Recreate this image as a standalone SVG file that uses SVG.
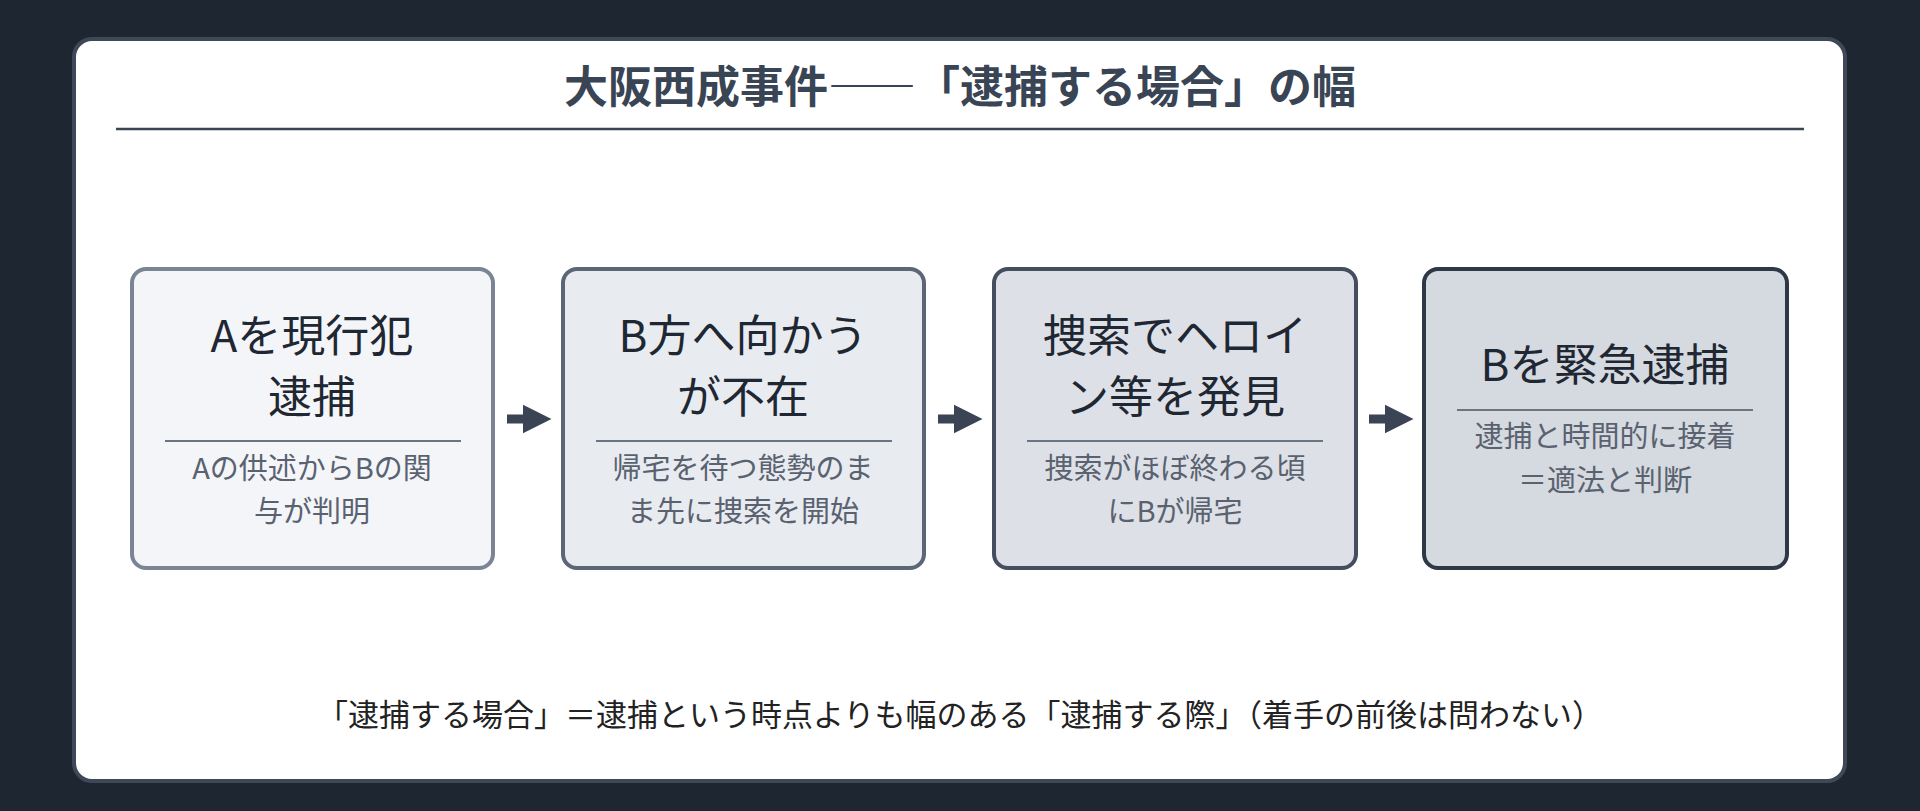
<svg xmlns="http://www.w3.org/2000/svg" width="1920" height="811" viewBox="0 0 1920 811">
<defs>
<style>
text{font-family:"Noto Sans CJK JP","Noto Sans",sans-serif;text-anchor:middle}
.t{font-size:44px;fill:#1f2733}
.s{font-size:29px;fill:#5a6270}
.sep{stroke:#6b7483;stroke-width:2}
.arr{stroke:#3a4454;stroke-width:9;fill:none}
</style>
<marker id="ah" viewBox="0 0 10 10" refX="6" refY="5" markerWidth="3.2" markerHeight="3.6" orient="auto" markerUnits="strokeWidth"><path d="M0,0 L10,5 L0,10 z" fill="#3a4454"/></marker>
</defs>
<rect width="1920" height="811" fill="#1e2631"/>
<rect x="74" y="39" width="1771" height="742" rx="18" fill="#fff" stroke="#3f4858" stroke-width="4"/>
<text x="960" y="103" style="font-size:44px;font-weight:bold;fill:#394455">大阪西成事件――「逮捕する場合」の幅</text>
<line x1="116" y1="129" x2="1804" y2="129" stroke="#394455" stroke-width="2.5"/>
<g id="n1"><rect x="132" y="269" width="361" height="299" rx="14" fill="#f3f5f8" stroke="#7b8494" stroke-width="4"/>
<text class="t" x="312" y="352">Aを現行犯</text><text class="t" x="312" y="413">逮捕</text>
<line class="sep" x1="165" y1="441" x2="461" y2="441"/>
<text class="s" x="312" y="479">Aの供述からBの関</text><text class="s" x="312" y="522">与が判明</text></g>
<g id="n2"><rect x="563" y="269" width="361" height="299" rx="14" fill="#e8ecf0" stroke="#5c6677" stroke-width="4"/>
<text class="t" x="743" y="352">B方へ向かう</text><text class="t" x="743" y="413">が不在</text>
<line class="sep" x1="596" y1="441" x2="892" y2="441"/>
<text class="s" x="743" y="479">帰宅を待つ態勢のま</text><text class="s" x="743" y="522">ま先に捜索を開始</text></g>
<g id="n3"><rect x="994" y="269" width="362" height="299" rx="14" fill="#dde1e7" stroke="#454e5e" stroke-width="4"/>
<text class="t" x="1175" y="352">捜索でヘロイ</text><text class="t" x="1175" y="413">ン等を発見</text>
<line class="sep" x1="1027" y1="441" x2="1323" y2="441"/>
<text class="s" x="1175" y="479">捜索がほぼ終わる頃</text><text class="s" x="1175" y="522">にBが帰宅</text></g>
<g id="n4"><rect x="1424" y="269" width="363" height="299" rx="14" fill="#d5d9e0" stroke="#2f3846" stroke-width="4"/>
<text class="t" x="1605" y="381">Bを緊急逮捕</text>
<line class="sep" x1="1457" y1="410" x2="1753" y2="410"/>
<text class="s" x="1605" y="447">逮捕と時間的に接着</text><text class="s" x="1605" y="491">＝適法と判断</text></g>
<g id="connectors">
<line class="arr" x1="507" y1="419" x2="540" y2="419" marker-end="url(#ah)"/>
<line class="arr" x1="938" y1="419" x2="971" y2="419" marker-end="url(#ah)"/>
<line class="arr" x1="1369" y1="419" x2="1402" y2="419" marker-end="url(#ah)"/>
</g>
<text x="960" y="726" style="font-size:31px;fill:#222">「逮捕する場合」＝逮捕という時点よりも幅のある「逮捕する際」（着手の前後は問わない）</text>
</svg>
